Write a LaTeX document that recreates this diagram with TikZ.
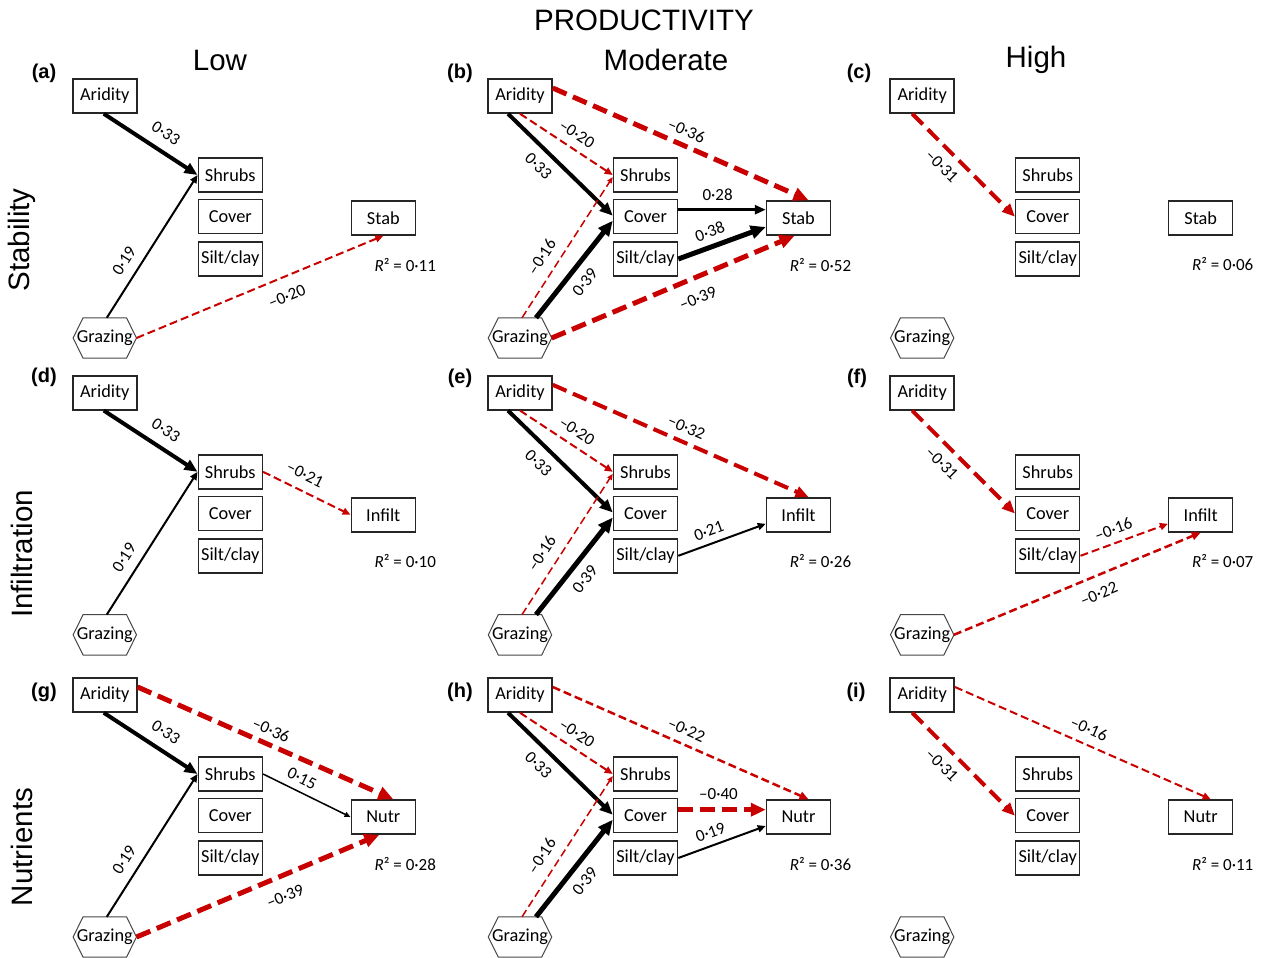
\documentclass[tikz,border=0pt]{standalone}
\usepackage{fontspec}
\setmainfont{Carlito}
\newfontfamily\arialf{Liberation Sans}
\usetikzlibrary{arrows.meta}
\definecolor{negred}{RGB}{200,0,0}
\definecolor{hexgray}{RGB}{70,70,70}
\newcommand\labfont{\fontsize{17}{20}\selectfont}
\newcommand\boxfont{\fontsize{18.3}{22}\selectfont}
\newcommand\drawhex[1]{\draw[hexline] (#1.west) -- ([xshift=10pt]#1.north west) -- ([xshift=-10pt]#1.north east) -- (#1.east) -- ([xshift=-10pt]#1.south east) -- ([xshift=10pt]#1.south west) -- cycle;}
\newcommand\mkpanel[5]{%
  \begin{scope}[shift={(#2,#3)}]
    \node[box] (#1A) at (0,0) {Aridity};
    \node[box] (#1S) at (125.5,79) {Shrubs};
    \node[box] (#1C) at (125.5,120.7) {Cover};
    \node[box] (#1L) at (125.5,163) {Silt/clay};
    \node[box] (#1O) at (278.5,122) {#4};
    \node[hexbox] (#1G) at (0,242) {Grazing};
    \node[rlab] (#1R) at (300.5,168.5) {{\itshape R}² = #5};
  \end{scope}
  \drawhex{#1G}%
}
\begin{document}
\begin{tikzpicture}[x=1pt,y=-1pt,
  box/.style={draw=black!85, line width=1.5pt, minimum width=64pt, minimum height=34pt, inner sep=0pt, font=\boxfont},
  hexbox/.style={minimum width=63pt, minimum height=40pt, inner sep=0pt, font=\boxfont},
  hexline/.style={draw=hexgray, line width=1pt},
  rlab/.style={font=\labfont, inner sep=0pt},
  plab/.style={font=\arialf\bfseries\fontsize{20}{24}\selectfont, inner sep=0pt},
  ttl/.style={font=\arialf\fontsize{29.5}{34}\selectfont, inner sep=0pt},
  lab/.style={font=\labfont, text=black, sloped, inner sep=1pt},
  posE/.style={color=black},
  negE/.style={color=negred, dash pattern=on 8pt off 4pt},
  negT/.style={color=negred, dash pattern=on 15pt off 7pt},
  e15/.style={line width=1.5pt, -{Triangle[length=6pt,width=5pt]}},
  e2/.style={line width=2pt, -{Triangle[length=8pt,width=7pt]}},
  e25/.style={line width=2.5pt, -{Triangle[length=9pt,width=8pt]}},
  e3/.style={line width=3pt, -{Triangle[length=11pt,width=9pt]}},
  e4/.style={line width=4pt, -{Triangle[length=13pt,width=11pt]}},
  e5/.style={line width=5pt, -{Triangle[length=15pt,width=13pt]}}
]
\useasboundingbox (0,0) rectangle (1264,958);

% titles
\node[ttl] (tP) at (644,20) {PRODUCTIVITY};
\node[ttl] (tL) at (220,60) {Low};
\node[ttl] (tM) at (666,60) {Moderate};
\node[ttl] (tH) at (1036,60) {High};
\node[ttl, rotate=90] (rS) at (22,240) {Stability};
\node[ttl, rotate=90] (rI) at (22,554) {Infiltration};
\node[ttl, rotate=90] (rN) at (22,847) {Nutrients};

% panel labels
\node[plab] (pa) at (44,73) {(a)};
\node[plab] (pb) at (460,73) {(b)};
\node[plab] (pc) at (859,73) {(c)};
\node[plab] (pd) at (44,377) {(d)};
\node[plab] (pe) at (460,378) {(e)};
\node[plab] (pf) at (857,378) {(f)};
\node[plab] (pg) at (44,692) {(g)};
\node[plab] (ph) at (460,692) {(h)};
\node[plab] (pi) at (856,692) {(i)};

% panels
\mkpanel{a}{104.8}{96}{Stab}{0·11}
\mkpanel{b}{520}{96}{Stab}{0·52}
\mkpanel{c}{922.2}{96}{Stab}{0·06}
\mkpanel{d}{104.8}{392.8}{Infilt}{0·10}
\mkpanel{e}{520}{392.8}{Infilt}{0·26}
\mkpanel{f}{922.2}{392.8}{Infilt}{0·07}
\mkpanel{g}{104.8}{695}{Nutr}{0·28}
\mkpanel{h}{520}{695}{Nutr}{0·36}
\mkpanel{i}{922.2}{695}{Nutr}{0·11}

% ---- (a)
\draw[posE,e4] ([xshift=-1pt]aA.south) -- (aS.west) node[lab,pos=.56,above=9pt]{0·33};
\draw[posE,e2] ([xshift=2pt]aG.north) -- (aS.west) node[lab,pos=.34,above=8.5pt]{0·19};
\draw[negE,e2] (aG.east) -- (aO.south) node[lab,pos=.58,below=11.5pt]{–0·20};

% ---- (b)
\draw[negT,e5] ([yshift=8pt]bA.east) -- ([xshift=10pt]bO.north) node[lab,pos=.5,above=5.5pt]{–0·36};
\draw[negE,e2] (bA.south) -- (bS.west) node[lab,pos=.53,above=6.7pt]{–0·20};
\draw[posE,e4] ([xshift=-12pt]bA.south) -- ([yshift=1pt]bC.west) node[lab,pos=.4,below=7.7pt]{0·33};
\draw[negE,e15] ([xshift=2pt]bG.north) -- ([yshift=-2pt]bS.west) node[lab,pos=.37,above=9pt]{–0·16};
\draw[posE,e5] ([xshift=16pt]bG.north) -- ([yshift=-4pt]bC.west) node[lab,pos=.47,below=7.2pt]{0·39};
\path ([yshift=7pt]bC.east) coordinate (bc1);
\draw[posE,e3] (bc1) -- (bc1 -| bO.west) node[lab,pos=.45,above=7pt]{0·28};
\draw[posE,e5] (bL.east) -- ([yshift=-9pt]bO.west) node[lab,pos=.42,above=5.5pt]{0·38};
\draw[negT,e5] (bG.east) -- ([xshift=-4pt]bO.south) node[lab,pos=.57,below=11pt]{–0·39};

% ---- (c)
\draw[negT,e4] ([xshift=-10pt]cA.south) -- (cC.west) node[lab,pos=.4,below=7.5pt]{–0·31};

% ---- (d)
\draw[posE,e4] ([xshift=-1pt]dA.south) -- (dS.west) node[lab,pos=.56,above=9pt]{0·33};
\draw[posE,e2] ([xshift=2pt]dG.north) -- (dS.west) node[lab,pos=.34,above=8.5pt]{0·19};
\draw[negE,e2] (dS.east) -- (dO.west) node[lab,pos=.4,above=8.5pt]{–0·21};

% ---- (e)
\draw[negT,e4] ([yshift=8pt]eA.east) -- ([xshift=10pt]eO.north) node[lab,pos=.5,above=6pt]{–0·32};
\draw[negE,e2] (eA.south) -- (eS.west) node[lab,pos=.53,above=6.7pt]{–0·20};
\draw[posE,e4] ([xshift=-12pt]eA.south) -- ([yshift=1pt]eC.west) node[lab,pos=.4,below=7.7pt]{0·33};
\draw[negE,e15] ([xshift=2pt]eG.north) -- ([yshift=-2pt]eS.west) node[lab,pos=.37,above=9pt]{–0·16};
\draw[posE,e5] ([xshift=16pt]eG.north) -- ([yshift=-4pt]eC.west) node[lab,pos=.47,below=7.2pt]{0·39};
\draw[posE,e2] (eL.east) -- ([yshift=-9pt]eO.west) node[lab,pos=.4,above=5.3pt]{0·21};

% ---- (f)
\draw[negT,e4] ([xshift=-10pt]fA.south) -- (fC.west) node[lab,pos=.4,below=7.5pt]{–0·31};
\draw[negE,e2] (fL.east) -- ([yshift=-9pt]fO.west) node[lab,pos=.43,above=5.8pt]{–0·16};
\draw[negE,e25] (fG.east) -- (fO.south) node[lab,pos=.56,below=9.8pt]{–0·22};

% ---- (g)
\draw[negT,e5] ([yshift=8pt]gA.east) -- ([xshift=10pt]gO.north) node[lab,pos=.5,above=5pt]{–0·36};
\draw[posE,e4] ([xshift=-1pt]gA.south) -- (gS.west) node[lab,pos=.56,above=9pt]{0·33};
\draw[posE,e15] (gS.east) -- (gO.west) node[lab,pos=.38,above=5.8pt]{0·15};
\draw[posE,e2] ([xshift=2pt]gG.north) -- (gS.west) node[lab,pos=.34,above=8.5pt]{0·19};
\draw[negT,e5] (gG.east) -- ([xshift=-4pt]gO.south) node[lab,pos=.58,below=11pt]{–0·39};

% ---- (h)
\draw[negE,e25] ([yshift=8pt]hA.east) -- ([xshift=10pt]hO.north) node[lab,pos=.5,above=6.7pt]{–0·22};
\draw[negE,e2] (hA.south) -- (hS.west) node[lab,pos=.53,above=6.7pt]{–0·20};
\draw[posE,e4] ([xshift=-12pt]hA.south) -- ([yshift=1pt]hC.west) node[lab,pos=.4,below=7.7pt]{0·33};
\draw[negE,e15] ([xshift=2pt]hG.north) -- ([yshift=-2pt]hS.west) node[lab,pos=.37,above=9pt]{–0·16};
\draw[posE,e5] ([xshift=16pt]hG.north) -- ([yshift=-4pt]hC.west) node[lab,pos=.47,below=7.2pt]{0·39};
\path ([yshift=6pt]hC.east) coordinate (hc1);
\draw[negT,e5] (hc1) -- (hc1 -| hO.west) node[lab,pos=.46,above=7pt]{–0·40};
\draw[posE,e2] (hL.east) -- ([yshift=-9pt]hO.west) node[lab,pos=.42,above=5.5pt]{0·19};

% ---- (i)
\draw[negT,e4] ([xshift=-10pt]iA.south) -- (iC.west) node[lab,pos=.4,below=7.5pt]{–0·31};
\draw[negE,e2] ([yshift=8pt]iA.east) -- ([xshift=10pt]iO.north) node[lab,pos=.5,above=7.8pt]{–0·16};

\end{tikzpicture}
\end{document}
